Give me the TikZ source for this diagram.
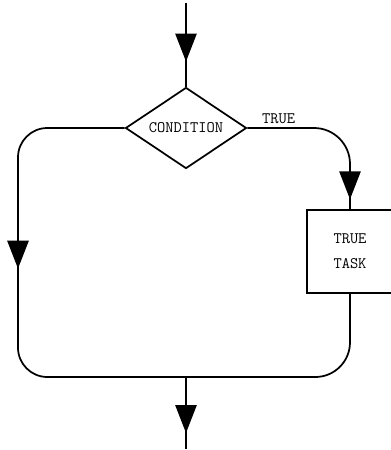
\documentclass[tikz,border=0pt]{standalone}
\usetikzlibrary{shapes.geometric,arrows.meta,decorations.markings}
\begin{document}
\begin{tikzpicture}[x=0.75pt,y=-0.75pt,line width=1.3pt,
				every node/.style={font=\ttfamily\fontsize{12}{18.75}\selectfont},
				decision/.style={diamond,draw,inner sep=0pt,aspect=1.5,minimum width=90.75pt,minimum height=60.75pt},
				taskbox/.style={rectangle,draw,align=center,minimum width=64pt,minimum height=62pt},
				flow/.style={postaction={decorate},decoration={markings,
					mark=at position #1 with {\arrow{Triangle[width=16pt,length=21pt]}}}}]
\useasboundingbox (0,0) rectangle (390,450);
\coordinate (start) at (186,3);
\node[decision] (cond) at (186,128) {CONDITION};
\node[anchor=base west,inner sep=0pt] (truelbl) at ([xshift=10.5pt,yshift=3.75pt]cond.east) {TRUE};
\node[taskbox] (task) at (350,251.5) {TRUE\\TASK};
\coordinate (lcorner) at (18,377);
\coordinate (join) at (186,377);
\coordinate (finish) at (186,449);
\draw[flow=0.7] (start) -- (cond);
\draw[flow=176pt,rounded corners=22pt] (cond.west) -| (lcorner) -- (join);
\draw[flow=-7.5pt,rounded corners=27pt] (cond.east) -| (task.north);
\draw[rounded corners=26pt] (task.south) |- (join);
\draw[flow=-12pt] (join) -- (finish);
\end{tikzpicture}
\end{document}
